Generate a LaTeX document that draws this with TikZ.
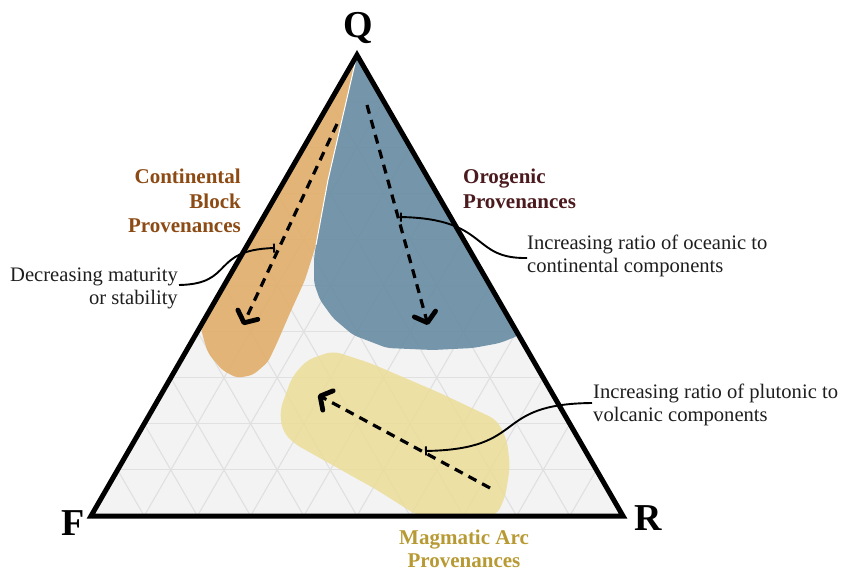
\documentclass[tikz,border=0pt]{standalone}
\usepackage{fontspec}
\setmainfont{Liberation Serif}
\usetikzlibrary{calc,arrows.meta}
\definecolor{trifill}{HTML}{F3F3F3}
\definecolor{gridc}{HTML}{E0E0E0}
\definecolor{orangefill}{RGB}{224,170,98}
\definecolor{bluefill}{RGB}{96,134,158}
\definecolor{yellowfill}{RGB}{236,221,152}
\definecolor{contc}{RGB}{140,74,20}
\definecolor{oroc}{RGB}{75,26,30}
\definecolor{magc}{RGB}{184,154,52}
\definecolor{notec}{HTML}{1E1E1E}
\begin{document}
\begin{tikzpicture}[x=1pt,y=-1pt,
  gridline/.style={draw=gridc,line width=1.1pt},
  region/.style={fill opacity=0.85},
  trianglebox/.style={draw=black,line width=5pt,line join=miter},
  trendarrow/.style={line width=3.2pt,dash pattern=on 9pt off 6.5pt,
     -{Straight Barb[length=9pt,width=22pt,line width=4.8pt,round]}},
  callout/.style={draw=black,line width=1.9pt,{Bar[width=9pt,line width=1.9pt]}-},
  vertexlabel/.style={font=\bfseries\fontsize{38}{40}\selectfont,inner sep=0pt},
  provlabel/.style={font=\bfseries\fontsize{21}{24.5}\selectfont,inner sep=0pt},
  notelabel/.style={font=\fontsize{20.6}{23}\selectfont,text=notec,inner sep=0pt}]
\useasboundingbox (0,0) rectangle (846,572);
\coordinate (Q) at (357,55);
\coordinate (F) at (91,516);
\coordinate (R) at (623,516);
\fill[trifill] (Q) -- (F) -- (R) -- cycle;
\foreach \i in {1,...,9}{
  \draw[gridline] ($(F)!\i/10!(Q)$) -- ($(R)!\i/10!(Q)$);
  \draw[gridline] ($(F)!\i/10!(R)$) -- ($(F)!\i/10!(Q)$);
  \draw[gridline] ($(R)!\i/10!(F)$) -- ($(R)!\i/10!(Q)$);
}
% Continental block region
\fill[region,orangefill,rounded corners=5pt] (Q) -- (328,180) -- (316,245) -- (305,280) -- (290,313) -- (277,343)
  -- (268,362) -- (253,375) -- (237,378) -- (222,370) -- (208,353) -- (203,337) -- (200.5,326) -- cycle;
% Orogenic region
\fill[region,bluefill,rounded corners=5pt] (Q) -- (328,180) -- (316,245) -- (314,258) -- (314,283) -- (320,300)
  -- (333,318) -- (353,335) -- (387,348) -- (433,350) -- (473,348) -- (500,343) -- (520,335) -- cycle;
\draw[white,line width=1pt] (Q) -- (328,180) -- (316,245);
% Magmatic arc region
\fill[region,yellowfill,rounded corners=8pt] (333,351) -- (307,360) -- (292,377) -- (280,410) -- (282,430)
  -- (293,443) -- (377,490) -- (418,516) -- (496,516) -- (505,498) -- (510,467) -- (507,440) -- (497,420)
  -- (440,393) -- (370,363) -- cycle;
\draw[trianglebox] (Q) -- (F) -- (R) -- cycle;
% trend arrows
\coordinate (a1s) at (337,124); \coordinate (a1e) at (243,325);
\coordinate (a2s) at (367,105); \coordinate (a2e) at (428,325);
\coordinate (a3s) at (490,488); \coordinate (a3e) at (318,395);
\draw[trendarrow] (a1s) -- (a1e);
\draw[trendarrow] (a2s) -- (a2e);
\draw[trendarrow] (a3s) -- (a3e);
% labels
\node[vertexlabel,anchor=base] (lq) at (358,38) {Q};
\node[vertexlabel,anchor=base] (lf) at (73,535) {F};
\node[vertexlabel,anchor=base] (lr) at (648,530) {R};
\node[provlabel,text=contc,align=right,anchor=north east] (cont) at (241,169) {Continental\\Block\\Provenances};
\node[provlabel,text=oroc,align=left,anchor=north west] (oro) at (463,169) {Orogenic\\Provenances};
\node[provlabel,text=magc,align=center,anchor=north,font=\bfseries\fontsize{21}{22.5}\selectfont] (mag) at (464,530) {Magmatic Arc\\Provenances};
\node[notelabel,align=right,anchor=north east] (n1) at (178,267.5) {Decreasing maturity\\or stability};
\node[notelabel,align=left,anchor=north west] (n2) at (527,235) {Increasing ratio of oceanic to\\continental components};
\node[notelabel,align=left,anchor=north west] (n3) at (593,384) {Increasing ratio of plutonic to\\volcanic components};
% callouts
\coordinate (c1) at (275,248); \coordinate (c1t) at (179,285);
\coordinate (c2) at (400,217); \coordinate (c2t) at (527,258);
\coordinate (c3) at (425,451); \coordinate (c3t) at (592,403);
\draw[callout] (c1) .. controls (210,250) and (235,284) .. (c1t);
\draw[callout] (c2) .. controls (490,219) and (470,259) .. (c2t);
\draw[callout] (c3) .. controls (530,449) and (490,404) .. (c3t);
\end{tikzpicture}
\end{document}
